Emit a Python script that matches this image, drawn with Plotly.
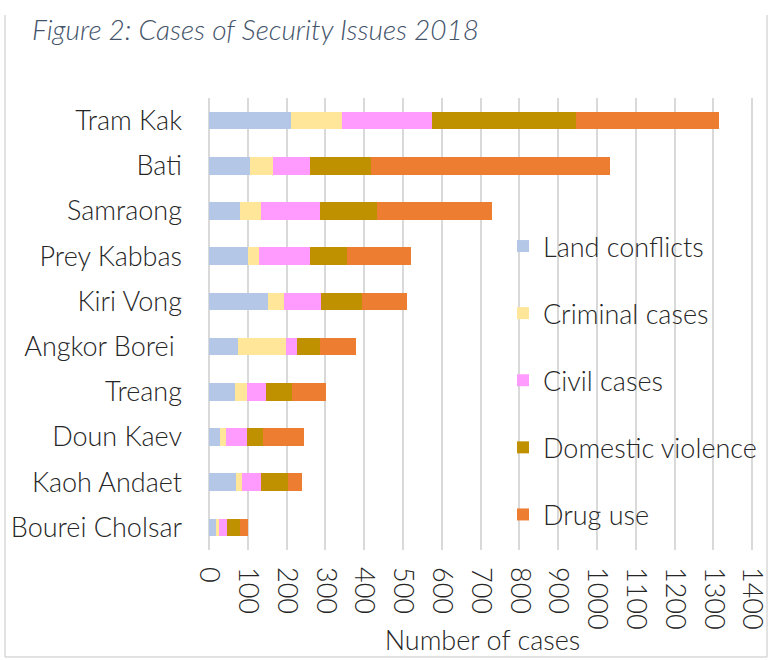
import plotly.graph_objects as go

districts = ["Tram Kak", "Bati", "Samraong", "Prey Kabbas", "Kiri Vong",
             "Angkor Borei ", "Treang", "Doun Kaev", "Kaoh Andaet", "Bourei Cholsar"]
land_conflicts = [212, 105, 79, 101, 151, 76, 67, 28, 70, 20]
criminal_cases = [131, 61, 55, 28, 43, 123, 31, 16, 15, 5]
civil_cases = [232, 94, 152, 132, 95, 27, 49, 53, 49, 22]
domestic_violence = [370, 157, 148, 95, 105, 60, 66, 43, 69, 33]
drug_use = [369, 616, 295, 165, 116, 93, 89, 106, 38, 20]

series_names = ["Land conflicts", "Criminal cases", "Civil cases", "Domestic violence", "Drug use"]
series_values = [land_conflicts, criminal_cases, civil_cases, domestic_violence, drug_use]
colors = ["#B4C7E7", "#FFE699", "#FF9BFF", "#BF9000", "#ED7D31"]
x_ticks = list(range(0, 1401, 100))

FONT = "Lato"
FS = 27
W, H = 769, 660
L, R, T, B = 209, 13, 98, 110
PW, PH = W - L - R, H - T - B
X_MAX = 1410


def px_x(p):
    return (p - L) / PW


def px_y(p):
    return (H - B - p) / PH


fig = go.Figure()
for name, vals, col in zip(series_names, series_values, colors):
    fig.add_trace(go.Bar(
        y=districts, x=vals, name=name, orientation="h",
        marker=dict(color=col, line=dict(width=0)),
        legendgroup=name,
    ))

grid = dict(color="#D9D9D9", width=1.5)
frame = dict(color="#D9D9D9", width=1.5)
fig.update_layout(
    width=W, height=H,
    barmode="stack", bargap=0.61,
    plot_bgcolor="white", paper_bgcolor="white",
    margin=dict(l=L, r=R, t=T, b=B, autoexpand=False),
    font=dict(family=FONT, size=FS, color="#262626", weight=300),
    title=dict(text="<i>Figure 2: Cases of Security Issues 2018</i>",
               x=32/W, xanchor="left", y=1-30/H, yanchor="middle",
               font=dict(family=FONT, size=28, color="#44546A", weight=300)),
    legend=dict(x=px_x(503), xanchor="left", y=px_y(222), yanchor="top",
                traceorder="grouped", tracegroupgap=29,
                bgcolor="rgba(0,0,0,0)",
                font=dict(family=FONT, size=FS, color="#262626", weight=300)),
    xaxis=dict(range=[0, X_MAX], tickvals=x_ticks, ticktext=[str(v) for v in x_ticks],
               tickangle=90, showgrid=True, gridcolor="#D9D9D9", gridwidth=1.5,
               zeroline=True, zerolinecolor="#D9D9D9", zerolinewidth=1.5,
               showline=False, ticks="", ticklen=0, automargin=False,
               ticklabelstandoff=16, ticklabeloverflow="allow",
               title=dict(text="Number of cases", font=dict(family=FONT, size=FS, weight=300), standoff=2)),
    yaxis=dict(autorange="reversed", showgrid=False, showline=False, ticks="",
               ticklabelstandoff=26, automargin=False),
    shapes=[
        dict(type="line", xref="x", yref="paper", x0=x_ticks[-1], x1=x_ticks[-1],
             y0=0, y1=1, line=grid, layer="below"),
        dict(type="line", xref="paper", yref="paper", x0=px_x(5), x1=px_x(5),
             y0=px_y(657), y1=px_y(15), line=frame),
        dict(type="line", xref="paper", yref="paper", x0=px_x(5), x1=px_x(767),
             y0=px_y(657), y1=px_y(657), line=frame),
        dict(type="line", xref="paper", yref="paper", x0=px_x(767), x1=px_x(767),
             y0=px_y(657), y1=px_y(15), line=frame),
    ],
)

fig.write_html(
    "out.html", config={"displayModeBar": False},
    post_script=("document.body.style.margin='0';"
                 "document.body.style.overflow='hidden';"
                 "document.documentElement.style.overflow='hidden';"),
)
